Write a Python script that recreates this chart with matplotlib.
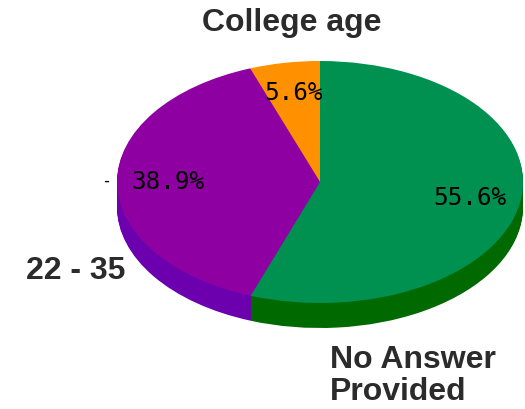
import numpy as np
import matplotlib.pyplot as plt

# slice data (counter-clockwise from 12 o'clock)
categories = ['College age', '22 - 35', 'No Answer Provided']
shares = [5.6, 38.9, 55.6]
top_colors = ['#ff9000', '#8e00a2', '#009150']
side_colors = ['#c06a00', '#6c00ae', '#006a00']

# pixel geometry of the tilted pie
W, H = 525, 409
cx, cy = 320, 182      # centre of top face (px)
a, b = 203, 121        # half axes of top face (px)
depth = 25             # thickness (px)

fig = plt.figure(figsize=(W / 100, H / 100), dpi=100)
ax = fig.add_axes([0, 0, 1, 1])

def draw_pie(ycen, colors, pct=False):
    return ax.pie(shares, colors=colors, startangle=90, counterclock=True,
                  center=(0, ycen), radius=1.0,
                  wedgeprops=dict(linewidth=0, antialiased=True),
                  autopct='%1.1f%%' if pct else None, pctdistance=0.75,
                  textprops=dict(family='DejaVu Sans Mono', fontsize=17.5,
                                 color='black'))

# side: stacked copies of the pie, shifted down
d = depth / b
for t in np.linspace(d, 0.01, 26):
    draw_pie(-t, side_colors)

wedges, texts, autotexts = draw_pie(0, top_colors, pct=True)
for t, v in zip(autotexts, shares):
    t.set_text(f'{v}%')

# map unit circle onto the ellipse in pixel space
ax.set_xlim(-cx / a, (W - cx) / a)
ax.set_ylim(-(H - cy) / b, cy / b)
ax.set_aspect('auto')
ax.axis('off')

lab = dict(family=['Liberation Sans', 'DejaVu Sans'], fontsize=23,
           fontweight='bold', color='#2b2b2b')
def px(x, y):
    return (x - cx) / a, (cy - y) / b

ax.text(*px(292, 23), categories[0], ha='center', va='center', **lab)
ax.text(*px(26, 271), categories[1], ha='left', va='center', **lab)
ax.text(*px(330, 376), 'No Answer\nProvided', ha='left', va='center',
        linespacing=1.13, **lab)
ax.text(*px(106, 181), '-', ha='center', va='center',
        family='DejaVu Sans Mono', fontsize=12, color='black')

fig.savefig('out.png', dpi=100)
